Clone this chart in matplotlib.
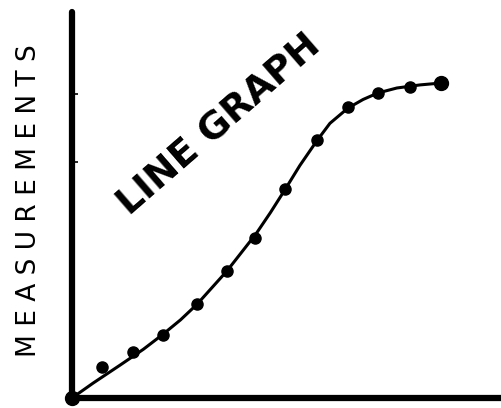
import matplotlib.pyplot as plt

x_pts = [0.97, 1.97, 2.94, 4.03, 5.0, 5.9, 6.87, 7.9, 8.9, 9.87, 10.9, 11.9]
y_pts = [1.0, 1.48, 2.03, 3.03, 4.1, 5.16, 6.74, 8.32, 9.39, 9.84, 10.03, 10.16]

# hand drawn curve
x_line = [0, 0.68, 1.55, 2.3, 2.94, 3.5, 4.03, 5.0, 5.94, 6.4, 6.87, 7.35, 7.9, 8.32, 8.9,
          9.39, 9.87, 10.48, 11.23, 11.9]
y_line = [0, 0.48, 1.06, 1.57, 2.06, 2.52, 3.02, 4.1, 5.3, 5.98, 6.72, 7.5, 8.3, 8.86, 9.35,
          9.63, 9.84, 10.0, 10.1, 10.16]

fig = plt.figure(figsize=(5.01, 4.08), dpi=100)
ax = fig.add_axes([72/501, 10/408, (501-72)/501, (398-12)/408])
ax.set_xlim(0, (501-72)/31)
ax.set_ylim(0, (398-12)/31)

ax.plot(x_line, y_line, color='black', lw=2.2, solid_capstyle='round', solid_joinstyle='round')
ax.plot(x_pts, y_pts, 'o', color='black', ms=8, clip_on=False)
ax.plot([x_pts[-1]], [y_pts[-1]], 'o', color='black', ms=10)
ax.plot([0], [0], 'o', color='black', ms=10, clip_on=False)

for s in ['top', 'right']:
    ax.spines[s].set_visible(False)
for s in ['left', 'bottom']:
    ax.spines[s].set_linewidth(4.5)
    ax.spines[s].set_capstyle('round')

ax.set_xticks([])
ax.set_yticks([7.6, 9.8])
ax.set_yticklabels([])
ax.tick_params(axis='y', direction='in', length=4, width=1.2)

fig.text(220/501, 1-125/408, 'LINE GRAPH', rotation=41, ha='center', va='center',
         fontsize=27, fontweight='bold', family='DejaVu Sans')
fig.text(29/501, 1-201/408, 'M E A S U R E M E N T S', rotation=90, ha='center', va='center',
         fontsize=19, family='DejaVu Sans')

fig.savefig('out.png', dpi=100)
